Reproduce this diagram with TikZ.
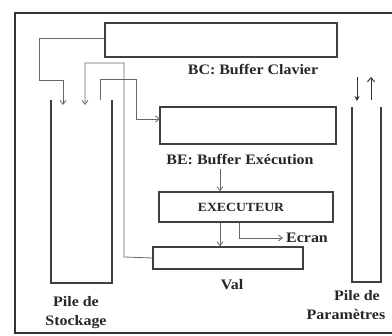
\documentclass[tikz,border=0pt]{standalone}
\usepackage{fontspec}
\setmainfont{Liberation Serif}
\usetikzlibrary{arrows.meta}
\newcommand\hstretch[1]{\scalebox{1.1}[1]{#1}}
\begin{document}
\begin{tikzpicture}[x=1pt,y=-1pt,
  box/.style={draw=black!75,line width=1.4pt,rectangle,inner sep=0pt},
  pile/.style={draw=black!75,line width=1.4pt},
  conn/.style={draw=black!60,line width=0.8pt},
  arr/.style={conn,-{Straight Barb[length=4pt,width=6pt]}},
  lbl/.style={font=\bfseries\fontsize{14.5}{15}\selectfont,inner sep=0pt,text=black!85}]
\useasboundingbox (0,0) rectangle (392,336);
\begin{scope}
\clip (0,0) rectangle (392,336);
\draw[draw=black!80,line width=2.5pt] (15,13) rectangle (410,333);
\end{scope}
% boxes
\node[box,minimum width=232pt,minimum height=34pt] (bc) at (221,40) {};
\node[box,minimum width=176pt,minimum height=37pt] (be) at (248,125.5) {};
\node[box,minimum width=174pt,minimum height=30pt] (ex) at (246,207) {};
\node[lbl,font=\bfseries\fontsize{12.5}{13}\selectfont] (exl) at (241,207) {\hstretch{EXECUTEUR}};
\node[box,minimum width=150pt,minimum height=22pt] (val) at (228,258) {};
% piles
\draw[pile] (51,100) -- (51,283) -- (112,283) -- (112,100);
\draw[pile] (352,107) -- (352,282) -- (381,282) -- (381,107);
\coordinate (psA) at (63,105);
\coordinate (psB) at (85,105);
\coordinate (psC) at (100,100);
\coordinate (beL) at (160,119);
% labels
\node[lbl] (bcl) at (253,70) {\hstretch{BC: Buffer Clavier}};
\node[lbl] (bel) at (240,160) {\hstretch{BE: Buffer Exécution}};
\node[lbl] (vall) at (232,285) {\hstretch{Val}};
\node[lbl] (psl1) at (76,302) {\hstretch{Pile de}};
\node[lbl] (psl2) at (76,322) {\hstretch{Stockage}};
\node[lbl] (ppl1) at (357,296) {\hstretch{Pile de}};
\node[lbl] (ppl2) at (346,315) {\hstretch{Paramètres}};
\node[lbl,anchor=west] (ecran) at (286,238) {\hstretch{Ecran}};
% connectors
\draw[arr] (bc.west |- 0,38) -- (39,38) -- (39,80) -- (63,80) -- (psA);
\draw[arr] (val.west) -- (124,257) -- (124,63) -- (85,63) -- (psB);
\draw[arr] (psC) -- (100,79) -- (136,79) -- (136,119) -- (beL);
\draw[arr] (220,169) -- (ex.north -| 220,0);
\draw[arr] (ex.south -| 220,0) -- (val.north -| 220,0);
\draw[arr] (ex.south -| 239,0) -- (239,238) -- ([xshift=-3pt]ecran.west);
\coordinate (dA) at (357,77);
\coordinate (dB) at (357,101);
\coordinate (uA) at (371,100);
\coordinate (uB) at (371,77);
\draw[conn,draw=black!80,line width=1pt,-{Stealth[length=5pt,width=5pt]}] (dA) -- (dB);
\draw[conn,draw=black!80,line width=1pt,-{Straight Barb[length=4pt,width=7pt]}] (uA) -- (uB);
\end{tikzpicture}
\end{document}
